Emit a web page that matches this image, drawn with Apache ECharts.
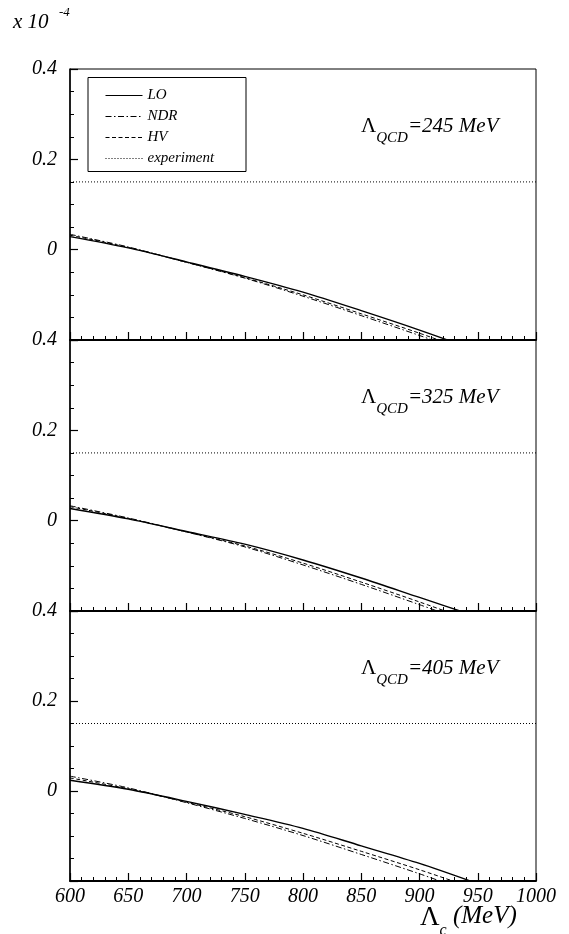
<!DOCTYPE html>
<html>
<head>
<meta charset="utf-8">
<script src="https://cdn.jsdelivr.net/npm/echarts@6/dist/echarts.min.js"></script>
<style>
html, body { margin: 0; padding: 0; background: #fff; }
#chart { width: 569px; height: 934px; }
</style>
</head>
<body>
<div id="chart"></div>
<script>
// Lambda_c values (MeV) at which the three predictions are sampled
const lambdaC = [600, 650, 700, 750, 800, 850, 900, 950];

// Lambda_QCD = 245 MeV
const lo245  = [0.029, 0.004, -0.027, -0.059, -0.094, -0.135, -0.178, -0.224];
const ndr245 = [0.034, 0.006, -0.028, -0.063, -0.103, -0.146, -0.190, -0.236];
const hv245  = [0.032, 0.005, -0.028, -0.062, -0.100, -0.142, -0.185, -0.231];

// Lambda_QCD = 325 MeV
const lo325  = [0.027, 0.004, -0.024, -0.052, -0.087, -0.127, -0.170, -0.213];
const ndr325 = [0.033, 0.006, -0.025, -0.058, -0.098, -0.141, -0.186, -0.232];
const hv325  = [0.031, 0.005, -0.025, -0.056, -0.094, -0.136, -0.180, -0.226];

// Lambda_QCD = 405 MeV
const lo405  = [0.024, 0.004, -0.023, -0.052, -0.083, -0.122, -0.161, -0.206];
const ndr405 = [0.033, 0.007, -0.026, -0.061, -0.099, -0.141, -0.184, -0.230];
const hv405  = [0.029, 0.005, -0.025, -0.057, -0.094, -0.134, -0.175, -0.219];

// measured value (units of 1e-4), drawn across the full range
const experimentValue = 0.15;
const xRange = [600, 1000];
const yRange = [-0.2, 0.4];

const qcdLabels = ['245', '325', '405'];
const panels = [
  { lo: lo245, ndr: ndr245, hv: hv245 },
  { lo: lo325, ndr: ndr325, hv: hv325 },
  { lo: lo405, ndr: ndr405, hv: hv405 }
];

const SERIF = '"Liberation Serif", "Times New Roman", serif';
const gridTops = [69, 340, 611];
const gridHeights = [271, 271, 270];

const pair = (xs, ys) => xs.map((x, i) => [x, ys[i]]);

const grids = [], xAxes = [], yAxes = [], series = [], graphics = [];

panels.forEach((p, i) => {
  grids.push({
    left: 70, right: 33, top: gridTops[i], height: gridHeights[i],
    show: true, borderColor: '#000', borderWidth: 1, backgroundColor: 'transparent'
  });
  xAxes.push({
    type: 'value', gridIndex: i, min: xRange[0], max: xRange[1], interval: 50,
    axisLine: { show: true, onZero: false, lineStyle: { color: '#000', width: 2 } },
    axisTick: { show: true, inside: true, length: 8, lineStyle: { color: '#000', width: 1.2 } },
    minorTick: { show: true, splitNumber: 5, length: 4, lineStyle: { color: '#000', width: 1 } },
    splitLine: { show: false },
    axisLabel: {
      show: i === 2, margin: 6, color: '#000',
      fontFamily: SERIF, fontStyle: 'italic', fontSize: 20,
      formatter: v => String(v)
    }
  });
  yAxes.push({
    type: 'value', gridIndex: i, min: yRange[0], max: yRange[1], interval: 0.2,
    axisLine: { show: true, onZero: false, lineStyle: { color: '#000', width: 1.5 } },
    axisTick: { show: true, inside: true, length: 8, lineStyle: { color: '#000', width: 1.2 } },
    minorTick: { show: true, splitNumber: 4, length: 4, lineStyle: { color: '#000', width: 1 } },
    splitLine: { show: false },
    axisLabel: {
      margin: 13, color: '#000', fontFamily: SERIF, fontStyle: 'italic', fontSize: 20,
      formatter: v => (v < -0.1 ? '' : String(Math.round(v * 10) / 10))
    }
  });

  const common = { xAxisIndex: i, yAxisIndex: i, type: 'line', symbol: 'none',
                   smooth: 0.3, clip: true, silent: true, color: '#000' };
  series.push(Object.assign({}, common, {
    name: 'LO', data: pair(lambdaC, p.lo),
    lineStyle: { color: '#000', width: 1.4, type: 'solid' }
  }));
  series.push(Object.assign({}, common, {
    name: 'NDR', data: pair(lambdaC, p.ndr),
    lineStyle: { color: '#000', width: 1, type: [6, 2.5, 1.5, 2.5] }
  }));
  series.push(Object.assign({}, common, {
    name: 'HV', data: pair(lambdaC, p.hv),
    lineStyle: { color: '#000', width: 1, type: [4, 2.5] }
  }));
  series.push(Object.assign({}, common, {
    name: 'experiment', smooth: false,
    data: [[xRange[0], experimentValue], [xRange[1], experimentValue]],
    lineStyle: { color: '#000', width: 1, type: [1, 2] }
  }));

  // Lambda_QCD annotation
  graphics.push({
    type: 'text', x: 361, y: 116 + gridTops[i] - gridTops[0], z: 10,
    style: {
      text: '{L|Λ}{s|QCD}{t|=' + qcdLabels[i] + ' MeV}',
      verticalAlign: 'top',
      rich: {
        L: { fontFamily: SERIF, fontSize: 21, verticalAlign: 'top', fill: '#000' },
        s: { fontFamily: SERIF, fontStyle: 'italic', fontSize: 15, lineHeight: 30, verticalAlign: 'bottom', fill: '#000' },
        t: { fontFamily: SERIF, fontStyle: 'italic', fontSize: 21, verticalAlign: 'top', fill: '#000' }
      }
    }
  });
});

// legend frame
graphics.push({
  type: 'rect', z: 5,
  shape: { x: 88, y: 77.5, width: 158, height: 94 },
  style: { fill: 'none', stroke: '#000', lineWidth: 1 }
});

// scale factor of the y axis
graphics.push({
  type: 'text', x: 13, y: 33, z: 10,
  style: { text: 'x 10', fontFamily: SERIF, fontStyle: 'italic', fontSize: 21, fill: '#000', verticalAlign: 'bottom' }
});
graphics.push({
  type: 'text', x: 59, y: 19, z: 10,
  style: { text: '-4', fontFamily: SERIF, fontStyle: 'italic', fontSize: 13, fill: '#000', verticalAlign: 'bottom' }
});

// x axis title
graphics.push({
  type: 'text', x: 420, y: 904, z: 10,
  style: {
    text: '{L|Λ}{s|c}{t| (MeV)}',
    verticalAlign: 'top',
    rich: {
      L: { fontFamily: SERIF, fontSize: 27, verticalAlign: 'top', fill: '#000' },
      s: { fontFamily: SERIF, fontStyle: 'italic', fontSize: 16, lineHeight: 35, verticalAlign: 'bottom', fill: '#000' },
      t: { fontFamily: SERIF, fontStyle: 'italic', fontSize: 25, verticalAlign: 'top', fill: '#000' }
    }
  }
});

const chart = echarts.init(document.getElementById('chart'), null, { renderer: 'canvas' });
chart.setOption({
  animation: false,
  backgroundColor: '#fff',
  grid: grids,
  xAxis: xAxes,
  yAxis: yAxes,
  legend: {
    data: ['LO', 'NDR', 'HV', 'experiment'],
    orient: 'vertical', left: 105, top: 88,
    itemWidth: 37, itemHeight: 14, itemGap: 6,
    padding: 0,
    selectedMode: false,
    itemStyle: { opacity: 0 },
    textStyle: { fontFamily: SERIF, fontStyle: 'italic', fontSize: 15, color: '#000' },
    lineStyle: { width: 1, opacity: 1 }
  },
  series: series,
  graphic: graphics
});
</script>
</body>
</html>
